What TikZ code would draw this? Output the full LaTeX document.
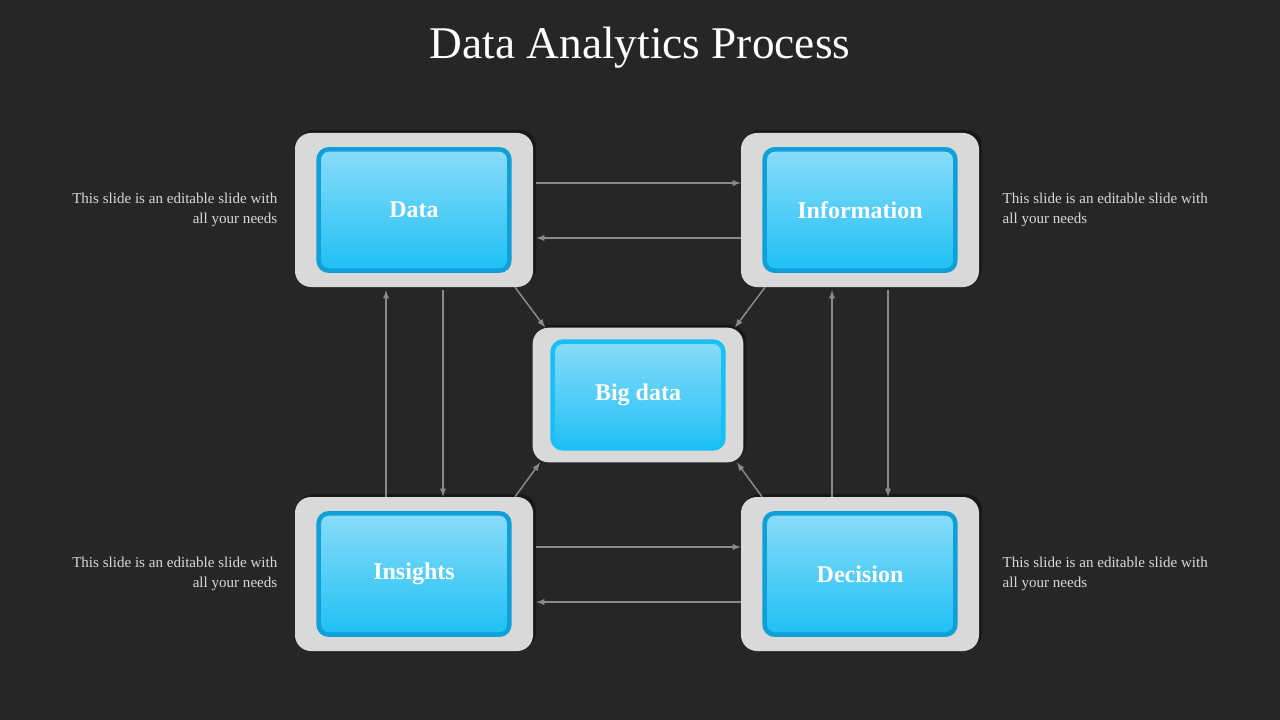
\documentclass[tikz,border=0pt]{standalone}
\usepackage{fontspec}
\setmainfont{Liberation Serif}
\usetikzlibrary{positioning,shadows}
\definecolor{bgcol}{HTML}{262626}
\definecolor{panel}{HTML}{D9D9D9}
\definecolor{skytop}{HTML}{8ADCF9}
\definecolor{skybot}{HTML}{1EC0F5}
\definecolor{rimblue}{HTML}{0EA0D6}
\definecolor{rimbright}{HTML}{18C0F5}
\definecolor{flowgray}{HTML}{8A8A8A}
\definecolor{notegray}{HTML}{D8D8D8}
\tikzset{
  panel box/.style={fill=panel, rounded corners=12, minimum width=178.5, minimum height=115.5,
    drop shadow={shadow xshift=3, shadow yshift=-3, opacity=0.35, fill=black}},
  step card/.style={top color=skytop, bottom color=skybot, draw=rimblue, line width=3.4,
    rounded corners=7.5, minimum width=143, minimum height=91, text=white,
    font=\bfseries\fontsize{18}{20}\selectfont},
  flow/.style={-latex, draw=flowgray, line width=1.1},
  note/.style={text=notegray, font=\fontsize{11.3}{14.5}\selectfont, align=left}
}
\begin{document}
\begin{tikzpicture}[x=0.75pt, y=-0.75pt]
  \fill[bgcol] (0,0) rectangle (1280,720);
  \node[text=white, font=\fontsize{34}{40}\selectfont] (title) at (640,48) {Data Analytics Process};
  % boxes
  \node[panel box] (dataP) at (414,210) {};
  \node[step card] (data) at (414,210) {Data};
  \node[panel box] (infoP) at (860,210) {};
  \node[step card] (info) at (860,210) {Information};
  \node[panel box] (insP) at (414,574) {};
  \node[step card] (ins) at (414,574) {Insights};
  \node[panel box] (decP) at (860,574) {};
  \node[step card] (dec) at (860,574) {Decision};
  \node[panel box, minimum width=158, minimum height=101] (bigP) at (638,395) {};
  \node[step card, draw=rimbright, minimum width=128, minimum height=80] (big) at (638,395) {Big data};
  % notes
  \node[note, align=right, anchor=east] (n1) at (282,210) {This slide is an editable slide with\\all your needs};
  \node[note, anchor=west] (n2) at (998,210) {This slide is an editable slide with\\all your needs};
  \node[note, align=right, anchor=east] (n3) at (282,574) {This slide is an editable slide with\\all your needs};
  \node[note, anchor=west] (n4) at (998,574) {This slide is an editable slide with\\all your needs};
  % horizontal
  \draw[flow] ([shift={(3,-27)}]dataP.east) -- ([shift={(0,-27)}]infoP.west);
  \draw[flow] ([shift={(0,28)}]infoP.west) -- ([shift={(3,28)}]dataP.east);
  \draw[flow] ([shift={(3,-27)}]insP.east) -- ([shift={(0,-27)}]decP.west);
  \draw[flow] ([shift={(0,28)}]decP.west) -- ([shift={(3,28)}]insP.east);
  % vertical
  \draw[flow] ([shift={(-28,0)}]insP.north) -- ([shift={(-28,3)}]dataP.south);
  \draw[flow] ([shift={(29,3)}]dataP.south) -- ([shift={(29,0)}]insP.north);
  \draw[flow] ([shift={(-28,0)}]decP.north) -- ([shift={(-28,3)}]infoP.south);
  \draw[flow] ([shift={(28,3)}]infoP.south) -- ([shift={(28,0)}]decP.north);
  % diagonals
  \draw[flow] ([shift={(101,0)}]dataP.south) -- ([shift={(-93,0)}]bigP.north);
  \draw[flow] ([shift={(-95,0)}]infoP.south) -- ([shift={(97,0)}]bigP.north);
  \draw[flow] ([shift={(101,0)}]insP.north) -- ([shift={(-98,0)}]bigP.south);
  \draw[flow] ([shift={(-98,0)}]decP.north) -- ([shift={(99,0)}]bigP.south);
\end{tikzpicture}
\end{document}
